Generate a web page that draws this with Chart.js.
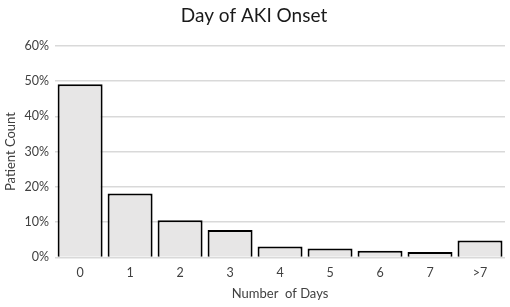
<!DOCTYPE html>
<html>
<head>
<meta charset="utf-8">
<script src="https://cdn.jsdelivr.net/npm/chart.js@4/dist/chart.umd.min.js"></script>
<style>
  html, body { margin: 0; padding: 0; background: #fff; }
  #wrap { width: 510px; height: 307px; }
</style>
</head>
<body>
<div id="wrap"><canvas id="onsetChart" width="510" height="307"></canvas></div>
<script>
// 数据
const dayLabels = ['0', '1', '2', '3', '4', '5', '6', '7', '>7'];
const patientPct = [49.1, 18.1, 10.5, 7.8, 3.1, 2.5, 1.9, 1.5, 4.8];
const yTickMax = 60;

const FONT = 'Lato, "Open Sans", "DejaVu Sans", sans-serif';

new Chart(document.getElementById('onsetChart'), {
    type: 'bar',
    data: {
        labels: dayLabels,
        datasets: [{
            label: 'Patient Count',
            data: patientPct,
            backgroundColor: '#e7e6e6',
            borderColor: '#000',
            borderWidth: 2,
            barPercentage: 0.9,
            categoryPercentage: 1.0
        }]
    },
    options: {
        responsive: false,
        animation: false,
        layout: { padding: { left: 3, right: 5, top: 4, bottom: 5 } },
        plugins: {
            legend: { display: false },
            tooltip: { enabled: false },
            title: {
                display: true,
                text: 'Day of AKI Onset',
                color: '#1a1a1a',
                font: { family: FONT, size: 19, weight: 'normal' },
                padding: { top: 0, bottom: 19 }
            }
        },
        scales: {
            x: {
                grid: { display: false },
                border: { display: false },
                ticks: { color: '#404040', font: { family: FONT, size: 12.5 }, padding: 0 },
                title: {
                    display: true,
                    text: 'Number  of Days',
                    color: '#404040',
                    font: { family: FONT, size: 13 },
                    padding: { top: 6, bottom: 0 }
                }
            },
            y: {
                min: 0,
                max: yTickMax,
                grid: { color: '#d9d9d9', lineWidth: 1.5, drawTicks: false },
                border: { display: false },
                ticks: {
                    stepSize: 10,
                    color: '#404040',
                    font: { family: FONT, size: 12.5 },
                    padding: 6,
                    callback: function(v) { return v + '%'; }
                },
                title: {
                    display: true,
                    text: 'Patient Count',
                    color: '#404040',
                    font: { family: FONT, size: 13 },
                    padding: { top: 0, bottom: 0 }
                }
            }
        }
    }
});
</script>
</body>
</html>
